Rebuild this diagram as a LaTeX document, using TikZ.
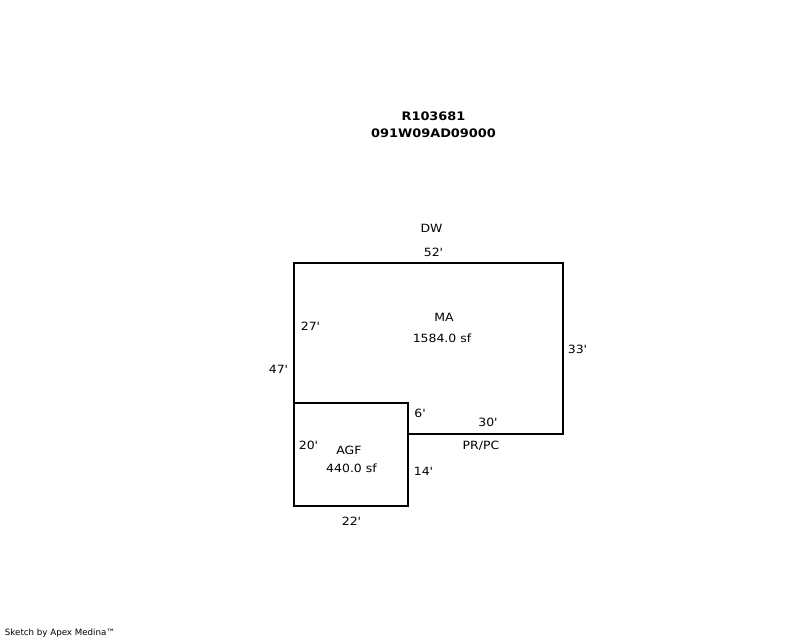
\documentclass[tikz,border=0pt]{standalone}
\usepackage{fontspec}
\setmainfont{DejaVu Sans}
\newfontfamily\widefont[FakeStretch=1.1]{DejaVu Sans}
\newcommand{\ftmark}{\symbol{39}}
\begin{document}
\begin{tikzpicture}[x=0.75pt,y=-0.75pt,
  wall/.style={draw=black,line width=1.5pt,line join=miter},
  lbl/.style={inner sep=0pt,text=black,font=\widefont\fontsize{8.5}{10}\selectfont},
  ttl/.style={inner sep=0pt,text=black,font=\widefont\fontsize{8.8}{10}\selectfont\bfseries},
  credit/.style={inner sep=0pt,text=black,font=\fontsize{6.5}{8}\selectfont}]
\useasboundingbox (0,0) rectangle (800,640);
\fill[white] (0,0) rectangle (800,640);
\draw[wall] (294,263) -- (563,263) -- (563,434) -- (408,434) -- (408,506) -- (294,506) -- cycle;
\draw[wall] (294,403) -- (408,403) -- (408,434);
\node[ttl] (title1) at (433.5,116) {R103681};
\node[ttl] (title2) at (433.5,133) {091W09AD09000};
\node[lbl] (dw) at (431.5,228) {DW};
\node[lbl] (d52) at (433.5,252) {52\ftmark};
\node[lbl] (ma) at (444,317) {MA};
\node[lbl] (maarea) at (442,338) {1584.0 sf};
\node[lbl] (d27) at (310.5,326) {27\ftmark};
\node[lbl] (d47) at (278.5,369) {47\ftmark};
\node[lbl] (d33) at (577.5,349) {33\ftmark};
\node[lbl] (d6) at (420,413) {6\ftmark};
\node[lbl] (d30) at (488,422) {30\ftmark};
\node[lbl] (prpc) at (481,446) {PR/PC};
\node[lbl] (d20) at (308.5,445) {20\ftmark};
\node[lbl] (agf) at (349,450) {AGF};
\node[lbl] (agfarea) at (351.5,468) {440.0 sf};
\node[lbl] (d14) at (423.5,471) {14\ftmark};
\node[lbl] (d22) at (351.5,521) {22\ftmark};
\node[credit] (sketch) at (60,633.5) {Sketch by Apex Medina™};
\end{tikzpicture}
\end{document}
